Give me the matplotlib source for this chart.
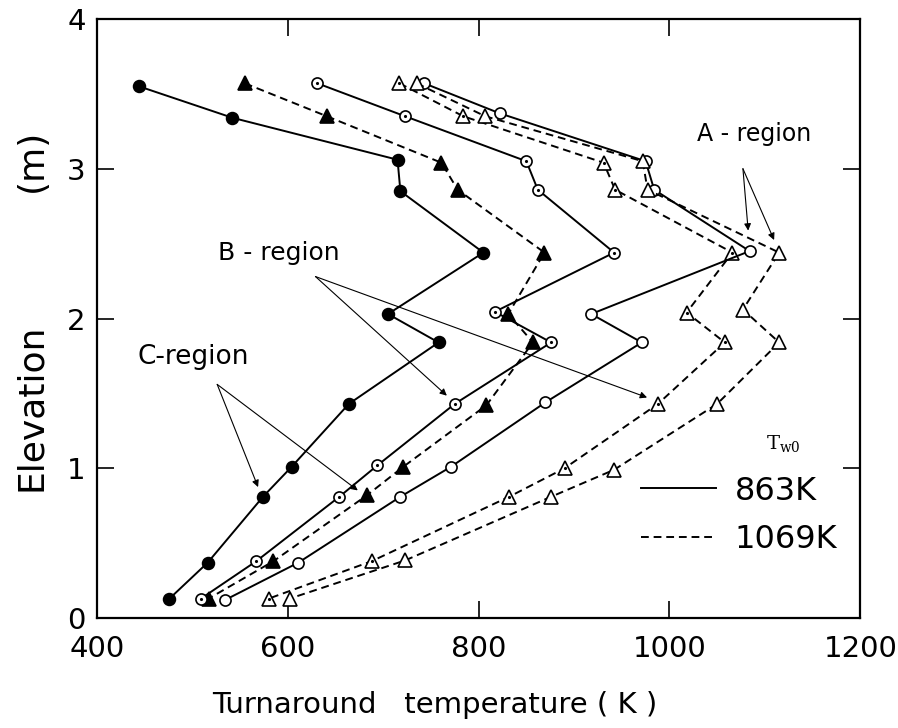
import numpy as np
import matplotlib.pyplot as plt
from matplotlib.lines import Line2D

plt.rcParams['font.family'] = ['DejaVu Sans']

# C-region, 863K (filled circles, solid)
c863_x = [444, 542, 715, 718, 805, 705, 758, 664, 604, 574, 516, 476]
c863_y = [3.55, 3.34, 3.06, 2.85, 2.44, 2.03, 1.84, 1.43, 1.01, 0.81, 0.37, 0.13]
# C-region, 1069K (filled triangles, dashed)
c1069_x = [555, 641, 761, 778, 869, 831, 857, 808, 721, 683, 585, 517]
c1069_y = [3.57, 3.35, 3.04, 2.86, 2.44, 2.03, 1.84, 1.42, 1.01, 0.82, 0.38, 0.13]
# B-region, 863K (dotted circles, solid)
b863_x = [631, 723, 850, 862, 942, 817, 876, 775, 694, 654, 567, 509]
b863_y = [3.57, 3.35, 3.05, 2.86, 2.44, 2.045, 1.84, 1.43, 1.02, 0.81, 0.38, 0.13]
# B-region, 1069K (dotted triangles, dashed)
b1069_x = [717, 784, 931, 943, 1066, 1018, 1058, 988, 890, 832, 688, 580]
b1069_y = [3.57, 3.35, 3.04, 2.86, 2.44, 2.04, 1.84, 1.43, 1.00, 0.81, 0.38, 0.13]
# A-region, 863K (open circles, solid)
a863_x = [743, 822, 975, 984, 1084, 918, 971, 870, 771, 718, 611, 534]
a863_y = [3.57, 3.37, 3.05, 2.86, 2.45, 2.03, 1.84, 1.44, 1.01, 0.81, 0.37, 0.12]
# A-region, 1069K (open triangles, dashed)
a1069_x = [735, 807, 972, 977, 1115, 1077, 1115, 1050, 942, 876, 723, 602]
a1069_y = [3.57, 3.35, 3.05, 2.86, 2.44, 2.06, 1.84, 1.43, 0.99, 0.81, 0.385, 0.13]

x_ticks = [400, 600, 800, 1000, 1200]
y_ticks = [0, 1, 2, 3, 4]

fig = plt.figure(figsize=(8.98, 7.28), dpi=100)
ax = fig.add_axes([0.108, 0.151, 0.850, 0.823])

DASH = (0, (4, 2.5))


def draw(x, y, ls, marker, filled, dotted, ms):
    ax.plot(x, y, color='k', ls=ls, lw=1.4, marker=marker, ms=ms,
            mfc='k' if filled else 'white', mec='k', mew=1.2, zorder=3)
    if dotted:
        ax.plot(x, y, ls='none', marker='.', ms=2.5, color='k', zorder=4)


draw(c863_x, c863_y, '-', 'o', True, False, 8.5)
draw(c1069_x, c1069_y, DASH, '^', True, False, 10)
draw(b863_x, b863_y, '-', 'o', False, True, 8)
draw(b1069_x, b1069_y, DASH, '^', False, True, 10)
draw(a863_x, a863_y, '-', 'o', False, False, 8)
draw(a1069_x, a1069_y, DASH, '^', False, False, 10)

arrow = dict(arrowstyle='-|>', lw=0.8, color='k', mutation_scale=10,
             shrinkA=0, shrinkB=4)

# region labels with their pointer arrows
ax.text(1089, 3.23, 'A - region', fontsize=17, ha='center', va='center')
for tip in [(1083, 2.55), (1112, 2.49)]:
    ax.annotate('', xy=tip, xytext=(1077, 3.0), arrowprops=arrow)

ax.text(591, 2.44, 'B - region', fontsize=18, ha='center', va='center')
for tip in [(771, 1.46), (982, 1.46)]:
    ax.annotate('', xy=tip, xytext=(629, 2.28), arrowprops=arrow)

ax.text(501, 1.74, 'C-region', fontsize=19, ha='center', va='center')
for tip in [(571, 0.84), (678, 0.83)]:
    ax.annotate('', xy=tip, xytext=(526, 1.56), arrowprops=arrow)

# legend
ax.text(1119, 1.165, r'$\mathregular{T_{w0}}$', fontsize=14,
        family='DejaVu Serif', ha='center', va='center')
handles = [Line2D([], [], color='k', lw=1.4, ls='-'),
           Line2D([], [], color='k', lw=1.4, ls=DASH)]
ax.legend(handles, ['863K', '1069K'], loc='lower right',
          bbox_to_anchor=(0.97, 0.105), frameon=False, fontsize=23,
          handlelength=2.35, handletextpad=0.6, labelspacing=0.55,
          borderpad=0, borderaxespad=0)

ax.set_xlim(400, 1200)
ax.set_ylim(0, 4)
ax.set_xticks(x_ticks)
ax.set_yticks(y_ticks)
ax.tick_params(direction='in', length=12, width=1.2, labelsize=21,
               top=True, right=True)
ax.tick_params(axis='x', pad=12)
ax.tick_params(axis='y', pad=8)
for s in ax.spines.values():
    s.set_linewidth(1.6)

fig.text(0.484, 0.021, 'Turnaround   temperature ( K )', fontsize=21,
         ha='center', va='baseline')
fig.text(0.035, 0.44, 'Elevation', fontsize=26, rotation=90,
         ha='center', va='center')
fig.text(0.035, 0.78, '(m)', fontsize=26, rotation=90,
         ha='center', va='center')

fig.savefig('out.png', dpi=100)
